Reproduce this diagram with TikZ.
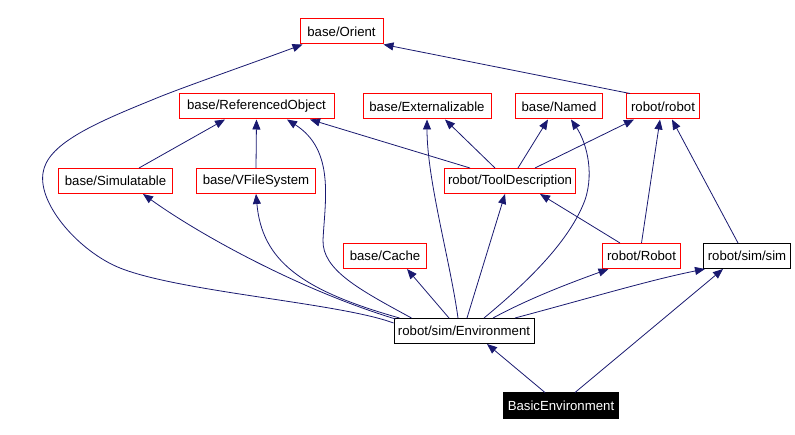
\documentclass[tikz,border=0pt]{standalone}
\usepackage{fontspec}
\setmainfont{Liberation Sans}
\usetikzlibrary{arrows.meta}

\definecolor{edgeblue}{HTML}{191970}

\tikzset{
  cls/.style={draw=red, line width=1pt, inner xsep=2pt, inner ysep=0pt,
    minimum height=25pt, font=\fontsize{13.2}{16}\selectfont},
  simcls/.style={cls, draw=black},
  topcls/.style={cls, draw=black, fill=black, text=white},
  inherit/.style={edgeblue, line width=0.8pt, -{Triangle[length=10pt,width=8pt]}}
}

\begin{document}
\begin{tikzpicture}[x=1pt, y=-1pt]
\useasboundingbox (0,0) rectangle (795,435);

% classes
\node[cls, minimum width=83pt] (orient) at (341.5,31.5) {base/Orient};
\node[cls, minimum width=155pt] (refobj) at (256.5,106.5) {base/ReferencedObject};
\node[cls, minimum width=128pt] (ext) at (427,106.5) {base/Externalizable};
\node[cls, minimum width=87pt] (named) at (559,106.5) {base/Named};
\node[cls, minimum width=73pt] (robotr) at (663,106.5) {robot/robot};
\node[cls, minimum width=114pt] (simul) at (115.5,181) {base/Simulatable};
\node[cls, minimum width=119pt] (vfs) at (256,181) {base/VFileSystem};
\node[cls, minimum width=131pt] (tooldesc) at (510,181) {robot/ToolDescription};
\node[cls, minimum width=83pt] (cache) at (385,256) {base/Cache};
\node[cls, minimum width=78pt] (robotR) at (641.5,256) {robot/Robot};
\node[simcls, minimum width=87pt] (simsim) at (747,256) {robot/sim/sim};
\node[simcls, minimum width=140pt] (env) at (464,331) {robot/sim/Environment};
\node[topcls, minimum width=115pt] (basic) at (561,405.5) {BasicEnvironment};

% Environment
\draw[inherit] ([yshift=-5pt]env.north west) .. controls (340,303) and (180,292) .. (120,268)
  .. controls (80,252) and (38,205) .. (43,173)
  .. controls (47,145) and (90,125) .. (152,100)
  .. controls (175,90) and (250,64) .. ([xshift=3pt]orient.south west);
\draw[inherit] ([xshift=18pt]env.north west) .. controls (360,290) and (322,270) .. (323,240)
  .. controls (325,200) and (335,150) .. ([xshift=30.5pt]refobj.south);
\draw[inherit] ([xshift=2pt,yshift=-1pt]env.north west) .. controls (300,290) and (200,235) .. ([xshift=27.5pt]simul.south);
\draw[inherit] ([xshift=6pt]env.north west) .. controls (300,290) and (262,260) .. (vfs.south);
\draw[inherit] ([xshift=-15pt]env.north) -- ([xshift=22pt]cache.south);
\draw[inherit] ([xshift=-6pt]env.north) .. controls (450,260) and (427,180) .. (ext.south);
\draw[inherit] ([xshift=3pt]env.north) -- ([xshift=-5pt]tooldesc.south);
\draw[inherit] ([xshift=20pt]env.north) .. controls (530,280) and (570,240) .. (585,200)
  .. controls (595,170) and (585,140) .. ([xshift=12pt]named.south);
\draw[inherit] ([xshift=29pt]env.north) .. controls (530,298) and (570,283) .. ([xshift=-33pt]robotR.south);
\draw[inherit] ([xshift=51pt]env.north) .. controls (590,298) and (650,280) .. ([xshift=2pt]simsim.south west);

% ToolDescription
\draw[inherit] ([xshift=-40pt]tooldesc.north) -- ([xshift=53.5pt]refobj.south);
\draw[inherit] ([xshift=-15pt]tooldesc.north) -- ([xshift=18pt]ext.south);
\draw[inherit] ([xshift=8pt]tooldesc.north) -- ([xshift=-11pt]named.south);
\draw[inherit] ([xshift=25pt]tooldesc.north) -- ([xshift=-29pt]robotr.south);

% others
\draw[inherit] ([xshift=4pt]robotr.north west) -- (orient.south east);
\draw[inherit] ([xshift=23.5pt]simul.north) -- ([xshift=-31.5pt]refobj.south);
\draw[inherit] (vfs.north) -- (refobj.south);
\draw[inherit] ([xshift=-21.5pt]robotR.north) -- ([xshift=30pt]tooldesc.south);
\draw[inherit] (robotR.north) -- ([xshift=-3pt]robotr.south);
\draw[inherit] ([xshift=-9pt]simsim.north) -- ([xshift=9pt]robotr.south);
\draw[inherit] ([xshift=-16pt]basic.north) -- ([xshift=23pt]env.south);
\draw[inherit] ([xshift=14pt]basic.north) -- ([xshift=-24pt]simsim.south);
\end{tikzpicture}
\end{document}
